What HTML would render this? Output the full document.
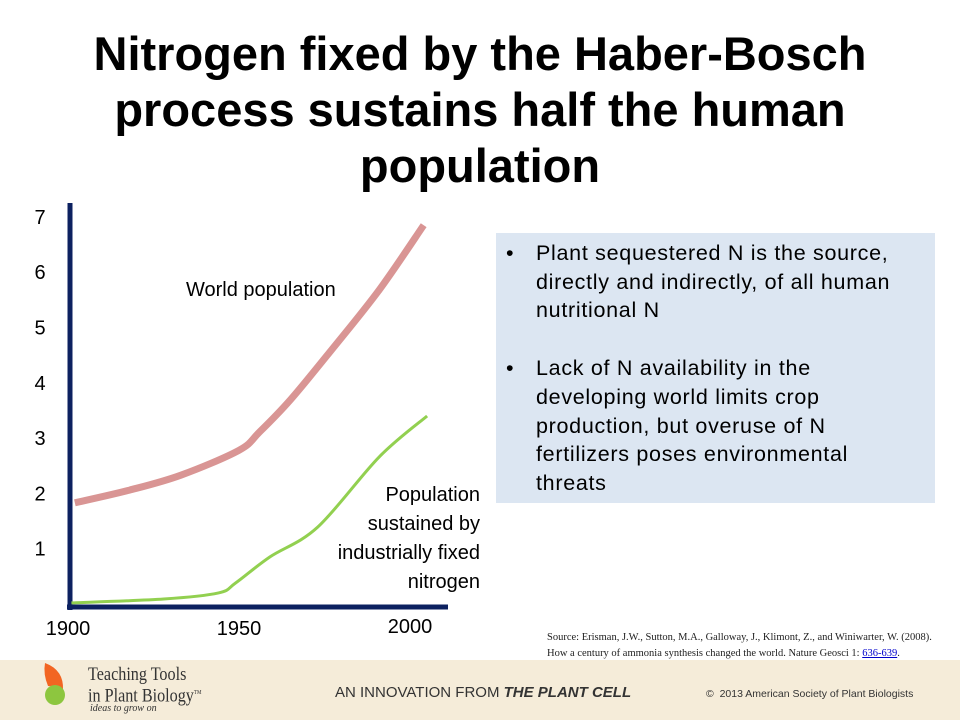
<!DOCTYPE html>
<html><head><meta charset="utf-8"><style>
body{margin:0;width:960px;height:720px;position:relative;background:#fff;font-family:"Liberation Sans",Arial,sans-serif;overflow:hidden}
.t{position:absolute;white-space:nowrap}
#title{position:absolute;left:0;top:26px;width:960px;text-align:center;font-weight:bold;font-size:47px;line-height:56px;color:#000}
#box{position:absolute;left:496px;top:233px;width:439px;height:270px;background:#dce6f2}
#box ul{margin:0;padding:6px 22px 0 40px;font-size:21.5px;line-height:28.7px;letter-spacing:0.7px;list-style:none}
#box li{position:relative;margin-bottom:29px}
#box li:before{content:"•";position:absolute;left:-30px}
#footer{position:absolute;left:0;top:660px;width:960px;height:60px;background:#f5ecd9}
</style></head><body>
<div id="title">Nitrogen fixed by the Haber-Bosch<br>process sustains half the human<br>population</div>
<svg id="chart" width="960" height="660" style="position:absolute;left:0;top:0"></svg>
<div id="box"><ul>
<li>Plant sequestered N is the source, directly and indirectly, of all human nutritional N</li>
<li>Lack of N availability in the developing world limits crop production, but overuse of N fertilizers poses environmental threats</li></ul></div>
<div class="t" style="left:547px;top:630px;font-family:'Liberation Serif',serif;font-size:10.5px;line-height:16px;color:#222">Source: Erisman, J.W., Sutton, M.A., Galloway, J., Klimont, Z., and Winiwarter, W. (2008).<br>How a century of ammonia synthesis changed the world. Nature Geosci 1: <span style="color:#00c;text-decoration:underline">636-639</span>.</div>
<div id="footer">
<svg width="40" height="60" style="position:absolute;left:40px;top:0"><path d="M5 3 Q24 10 23 30 Q14 26 8 26 Q3 14 5 3Z" fill="#f26522"/><ellipse cx="15" cy="35" rx="10" ry="10" fill="#8dc63f"/></svg>
<div class="t" style="left:88px;top:5px;font-family:'Liberation Serif',serif;font-size:19px;line-height:19px;color:#333;transform:scaleX(0.85);transform-origin:left">Teaching Tools<br>in Plant Biology<sup style="font-size:6px">TM</sup></div>
<div class="t" style="left:90px;top:43px;font-size:10px;font-style:italic;font-family:'Liberation Serif',serif;color:#333">ideas to grow on</div>
<div class="t" style="left:335px;top:24px;font-size:15px;color:#333">AN INNOVATION FROM <b><i>THE PLANT CELL</i></b></div>
<div class="t" style="left:706px;top:28px;font-size:10.5px;color:#333">©&nbsp; 2013 American Society of Plant Biologists</div>
</div>
<script>
const worldYears=[1902,1918,1933,1950,1956,1965,1977,1991,2004];
const worldPop=[1.83,2.06,2.33,2.78,3.11,3.69,4.59,5.68,6.85];
const fixedYears=[1901,1928,1944,1949,1959,1973,1991,2005];
const fixedPop=[0.02,0.09,0.2,0.38,0.85,1.39,2.66,3.4];
const yTicks=[1,2,3,4,5,6,7];
const xTicks=[1900,1950,2000];
const NS="http://www.w3.org/2000/svg";
const svg=document.getElementById('chart');
const xs=y=>68+(y-1900)*3.42, ys=v=>604-v*55.3;
function el(t,a){const e=document.createElementNS(NS,t);for(const k in a)e.setAttribute(k,a[k]);svg.appendChild(e);return e;}
function path(xa,va){const p=xa.map((x,i)=>[xs(x),ys(va[i])]);let d=`M${p[0][0]},${p[0][1]}`;
for(let i=0;i<p.length-1;i++){const p0=p[i-1]||p[i],p1=p[i],p2=p[i+1],p3=p[i+2]||p2;
d+=` C${p1[0]+(p2[0]-p0[0])/6},${p1[1]+(p2[1]-p0[1])/6} ${p2[0]-(p3[0]-p1[0])/6},${p2[1]-(p3[1]-p1[1])/6} ${p2[0]},${p2[1]}`;}return d;}
let a=el('line',{x1:70,y1:203,x2:70,y2:610,stroke:'#0c2160','stroke-width':5});

a=el('line',{x1:67,y1:607,x2:448,y2:607,stroke:'#0c2160','stroke-width':5});

let w=el('path',{d:path(worldYears,worldPop),fill:'none',stroke:'#d99594','stroke-width':7});

let g=el('path',{d:path(fixedYears,fixedPop),fill:'none',stroke:'#92d050','stroke-width':3});

yTicks.forEach(v=>{const t=el('text',{x:40,y:ys(v)+7,'font-size':20,'text-anchor':'middle'});t.textContent=v;
});
xTicks.forEach(v=>{const t=el('text',{x:xs(v),y:v==2000?633:635,'font-size':20,'text-anchor':'middle'});t.textContent=v;
});
let l=el('text',{x:186,y:296,'font-size':20});l.textContent='World population';

['Population','sustained by','industrially fixed','nitrogen'].forEach((s,i)=>{const t=el('text',{x:480,y:501+i*29,'font-size':20,'text-anchor':'end'});t.textContent=s;
});
</script>
</body></html>
